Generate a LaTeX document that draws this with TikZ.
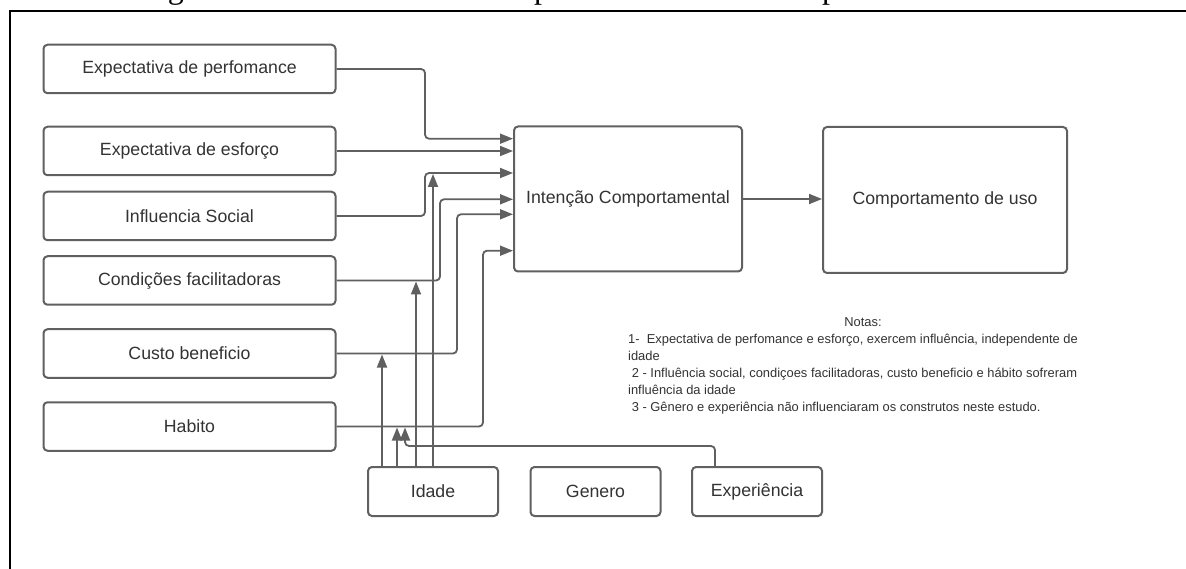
\documentclass[tikz,border=0pt]{standalone}
\usepackage{fontspec}
\setmainfont{Liberation Sans}
\newfontfamily\ttlfont{Liberation Serif}
\usetikzlibrary{arrows.meta}
\definecolor{lc}{HTML}{606060}
\definecolor{tc}{HTML}{333333}
\tikzset{
  bx/.style={draw=lc, line width=2pt, rounded corners=4pt, text=tc, inner sep=0pt,
    font=\fontsize{17.7}{20}\selectfont},
  lbox/.style={bx, minimum width=292pt, minimum height=48.5pt},
  sbox/.style={bx, minimum width=130pt, minimum height=49pt},
  conn/.style={draw=lc, line width=1.8pt, rounded corners=4pt},
  arr/.style={conn, -{Triangle[length=13pt,width=10pt]}},
  note/.style={anchor=base west, inner sep=0pt, text=tc, font=\fontsize{12.9}{17}\selectfont}
}
\begin{document}
\begin{tikzpicture}[x=1pt,y=-1pt]
\useasboundingbox (0,0) rectangle (1186,569);
\clip (0,0) rectangle (1186,569);
\fill[white] (0,0) rectangle (1186,569);
% cut-off caption
\node[anchor=base west, inner sep=0pt, font=\ttlfont\fontsize{32}{36}\selectfont] (ttl) at (141,-1)
  {Figura 6: Modelo UTAUT adaptado ao contexto de aplicativos bancários};
% frame
\draw[black, line width=2pt] (10,570) -- (10,11.5) -- (1187,11.5);
% left boxes
\node[lbox] (b1) at (189.5,69) {Expectativa de perfomance};
\node[lbox] (b2) at (189.5,151) {Expectativa de esforço};
\node[lbox] (b3) at (189.5,216) {Influencia Social};
\node[lbox] (b4) at (189.5,280.5) {Condições facilitadoras};
\node[lbox] (b5) at (189.5,353.5) {Custo beneficio};
\node[lbox] (b6) at (189.5,426.5) {Habito};
% main boxes
\node[bx, minimum width=228pt, minimum height=145pt] (I) at (628,199) {Intenção Comportamental};
\node[bx, minimum width=244pt, minimum height=146pt] (C) at (945,200) {Comportamento de uso};
% moderators
\node[sbox] (id) at (433,491.5) {Idade};
\node[sbox] (ge) at (595.5,491.5) {Genero};
\node[sbox] (ex) at (757,491.5) {Experiência};
% connectors into Intencao
\draw[arr] (b1.east) -| (425,138.7) -- (I.west |- 0,138.7);
\draw[arr] (b2.east) -- (I.west |- b2.east);
\draw[arr] (b3.east) -| (425,173) -- (I.west |- 0,173);
\draw[arr] (b4.east) -| (440,199.3) -- (I.west |- 0,199.3);
\draw[arr] (b5.east) -| (457,214.3) -- (I.west |- 0,214.3);
\draw[arr] (b6.east) -| (483,250.7) -- (I.west |- 0,250.7);
\draw[arr] (I.east) -- (C.west |- I.east);
% moderating arrows
\draw[arr] (id.north -| 382,0) -- (382,354.5);
\draw[arr] (id.north -| 397,0) -- (397,427.5);
\draw[arr] (id.north -| 416,0) -- (416,281.5);
\draw[arr] (id.north -| 433,0) -- (433,174);
\draw[arr] (ex.north -| 715,0) |- (405,446) -- (405,427.5);
% notes
\node[note, anchor=base] (nt) at (863,326.6) {Notas:};
\node[note] (n1) at (628,343.6) {1-\ \ Expectativa de perfomance e esforço, exercem influência, independente de};
\node[note] (n2) at (628,360.6) {idade};
\node[note] (n3) at (628,377.6) {\ 2 - Influência social, condiçoes facilitadoras, custo beneficio e hábito sofreram};
\node[note] (n4) at (628,394.6) {influência da idade};
\node[note] (n5) at (628,411.6) {\ 3 - Gênero e experiência não influenciaram os construtos neste estudo.};
\end{tikzpicture}
\end{document}
